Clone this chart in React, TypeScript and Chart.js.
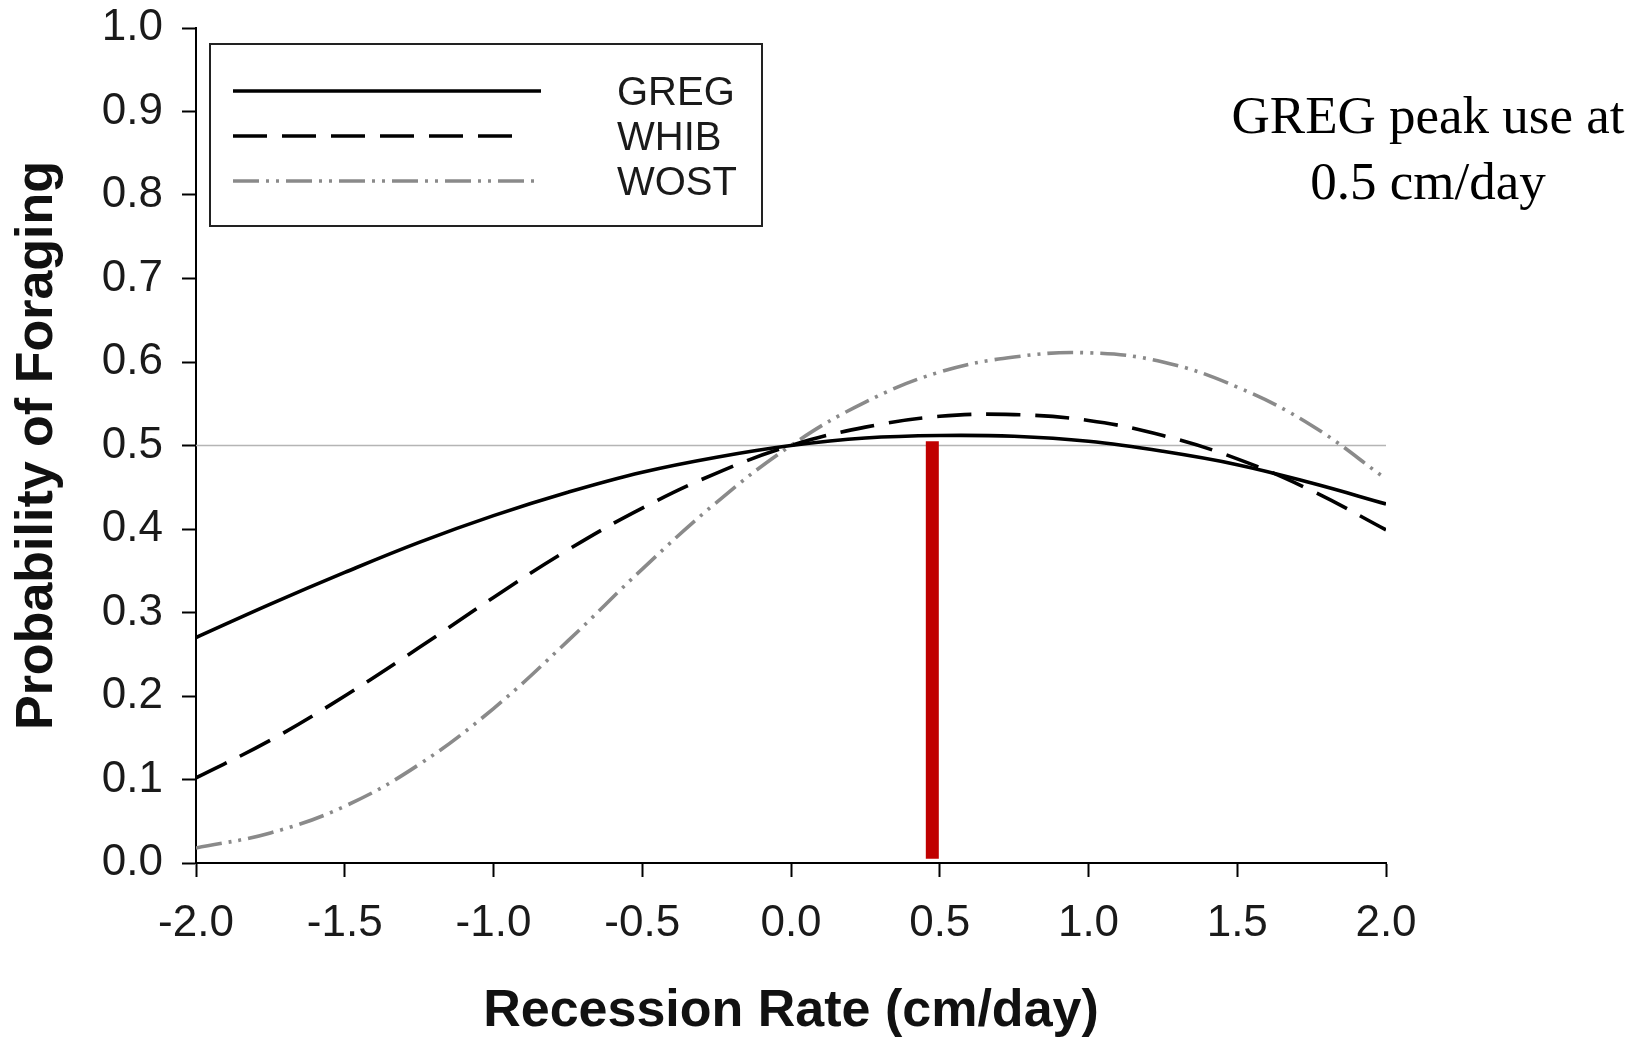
import React, { useEffect, useRef } from "react";
import { Chart, registerables } from "chart.js";

Chart.register(...registerables);

// ---- data ----
const recessionRate = [-2, -1.75, -1.5, -1.25, -1, -0.75, -0.5, -0.25, 0, 0.25, 0.5, 0.75, 1, 1.25, 1.5, 1.75, 2];
const gregProb = [0.27, 0.31, 0.348, 0.384, 0.416, 0.444, 0.468, 0.486, 0.5, 0.509, 0.512, 0.511, 0.505, 0.493, 0.477, 0.455, 0.43];
const whibProb = [0.102, 0.147, 0.2, 0.258, 0.318, 0.375, 0.425, 0.467, 0.5, 0.522, 0.535, 0.537, 0.53, 0.512, 0.484, 0.446, 0.399];
const wostProb = [0.018, 0.036, 0.068, 0.118, 0.185, 0.266, 0.352, 0.432, 0.5, 0.552, 0.588, 0.606, 0.611, 0.6, 0.57, 0.524, 0.46];
const seriesNames = ["GREG", "WHIB", "WOST"];
const referenceLevel = 0.5;
const referenceRange = [-2, 2];
const peakRate = 0.475;
const peakBarRange = [0.005, 0.505];
const xMin = -2;
const xMax = 2;
const xStep = 0.5;
const yMin = 0;
const yMax = 1;
const yStep = 0.1;
const xTitle = "Recession Rate (cm/day)";
const yTitle = "Probability of Foraging";
const annotationLines = ["GREG peak use at", "0.5 cm/day"];

const SANS = "'Liberation Sans', Arial, sans-serif";

const toPoints = (ys: number[]) => recessionRate.map((x, i) => ({ x, y: ys[i] }));

const overlayPlugin = {
  id: "overlay",
  afterDraw(chart: any) {
    const ctx = chart.ctx as CanvasRenderingContext2D;
    ctx.save();
    // legend box
    ctx.fillStyle = "#fff";
    ctx.fillRect(210, 44, 552, 182);
    ctx.strokeStyle = "#222";
    ctx.lineWidth = 2;
    ctx.strokeRect(210, 44, 552, 182);
    const rows = [91, 136, 181];
    const ends = [541, 517, 535];
    const legendSets = chart.data.datasets.filter((d: any) => seriesNames.includes(d.label));
    legendSets.forEach((ds: any, i: number) => {
      ctx.beginPath();
      ctx.setLineDash(ds.borderDash || []);
      ctx.strokeStyle = ds.borderColor;
      ctx.lineWidth = ds.borderWidth;
      ctx.lineCap = "butt";
      ctx.moveTo(233, rows[i]);
      ctx.lineTo(ends[i], rows[i]);
      ctx.stroke();
      ctx.setLineDash([]);
      ctx.fillStyle = "#1a1a1a";
      ctx.font = `40px ${SANS}`;
      ctx.textBaseline = "middle";
      ctx.textAlign = "left";
      ctx.fillText(ds.label, 617, rows[i] + 3);
    });
    // annotation
    ctx.font = "53px 'Liberation Serif', 'Times New Roman', serif";
    ctx.textAlign = "center";
    ctx.textBaseline = "middle";
    ctx.fillStyle = "#000";
    ctx.fillText(annotationLines[0], 1428, 119);
    ctx.fillText(annotationLines[1], 1428, 185);
    ctx.restore();
  },
};

export default function App() {
  const canvasRef = useRef<HTMLCanvasElement | null>(null);

  useEffect(() => {
    document.body.style.margin = "0";
    const canvas = canvasRef.current;
    if (!canvas) return;
    const chart = new Chart(canvas, {
      type: "line",
      data: {
        datasets: [
          {
            label: seriesNames[0],
            data: toPoints(gregProb),
            borderColor: "#000000",
            borderWidth: 3.6,
            borderDash: [],
            pointRadius: 0,
            tension: 0.4,
            order: 1,
          },
          {
            label: seriesNames[1],
            data: toPoints(whibProb),
            borderColor: "#000000",
            borderWidth: 3.6,
            borderDash: [34, 15],
            pointRadius: 0,
            tension: 0.4,
            order: 2,
          },
          {
            label: seriesNames[2],
            data: toPoints(wostProb),
            borderColor: "#8a8a8a",
            borderWidth: 3.6,
            borderDash: [26, 7, 3, 7, 3, 7],
            pointRadius: 0,
            tension: 0.4,
            order: 3,
          },
          {
            label: "peak",
            data: [
              { x: peakRate, y: peakBarRange[0] },
              { x: peakRate, y: peakBarRange[1] },
            ],
            borderColor: "#c00000",
            borderWidth: 13,
            borderCapStyle: "butt",
            pointRadius: 0,
            order: 4,
          },
          {
            label: "ref",
            data: [
              { x: referenceRange[0], y: referenceLevel },
              { x: referenceRange[1], y: referenceLevel },
            ],
            borderColor: "#b5b5b5",
            borderWidth: 1.5,
            pointRadius: 0,
            order: 5,
          },
        ],
      },
      options: {
        animation: false,
        responsive: false,
        devicePixelRatio: 1,
        layout: { padding: { top: 28, right: 260, bottom: 0, left: 0 } },
        plugins: { legend: { display: false }, tooltip: { enabled: false } },
        scales: {
          x: {
            type: "linear",
            min: xMin,
            max: xMax,
            afterFit: (s: any) => {
              s.height = 175;
            },
            ticks: {
              stepSize: xStep,
              font: { family: SANS, size: 44 },
              color: "#1a1a1a",
              padding: 20,
              maxRotation: 0,
              callback: (v: any) => Number(v).toFixed(1),
            },
            grid: {
              display: true,
              drawOnChartArea: false,
              drawTicks: true,
              tickLength: 14,
              tickWidth: 2,
              tickColor: "#000",
            },
            border: { display: true, color: "#000", width: 2 },
            title: {
              display: true,
              text: xTitle,
              font: { family: SANS, size: 52, weight: "bold", lineHeight: 1 },
              color: "#111",
              padding: { top: 0, bottom: 0 },
            },
          },
          y: {
            type: "linear",
            min: yMin,
            max: yMax,
            afterFit: (s: any) => {
              s.width = 196;
              s.paddingTop = 0;
              s.paddingBottom = 0;
            },
            ticks: {
              stepSize: yStep,
              font: { family: SANS, size: 44 },
              color: "#1a1a1a",
              padding: 19,
              callback: (v: any) => Number(v).toFixed(1),
            },
            grid: {
              display: true,
              drawOnChartArea: false,
              drawTicks: true,
              tickLength: 14,
              tickWidth: 2,
              tickColor: "#000",
            },
            border: { display: true, color: "#000", width: 2 },
            title: {
              display: true,
              text: yTitle,
              font: { family: SANS, size: 52, weight: "bold", lineHeight: 1 },
              color: "#111",
              padding: { top: 12, bottom: 0 },
            },
          },
        },
      },
      plugins: [overlayPlugin],
    } as any);
    return () => chart.destroy();
  }, []);

  return (
    <div style={{ width: 1646, height: 1038, position: "relative", background: "#fff" }}>
      <canvas ref={canvasRef} width={1646} height={1038} />
    </div>
  );
}
